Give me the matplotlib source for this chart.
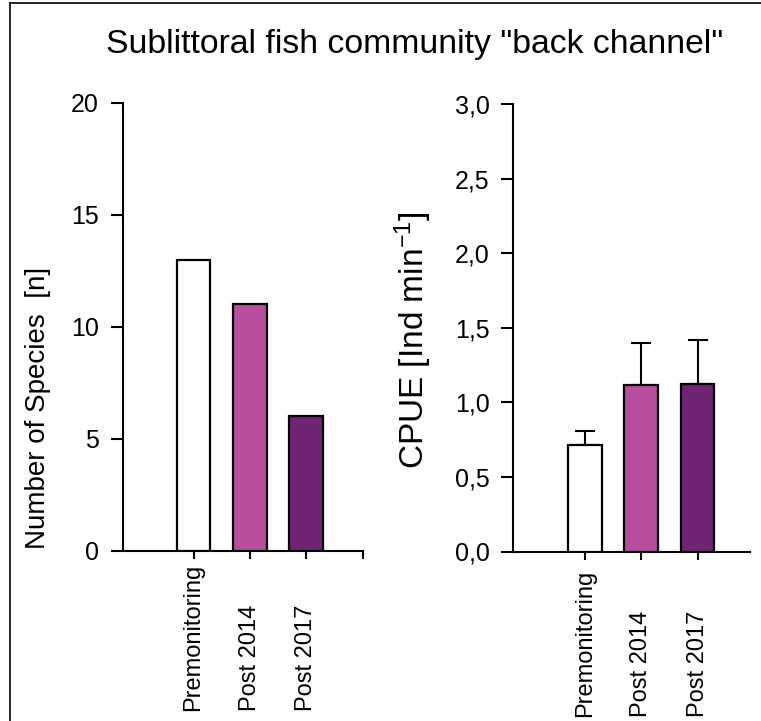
import numpy as np
import matplotlib
matplotlib.use('Agg')
import matplotlib.pyplot as plt
from matplotlib.lines import Line2D
from matplotlib.ticker import FuncFormatter

plt.rcParams['font.family'] = ['Liberation Sans', 'DejaVu Sans']
plt.rcParams['mathtext.default'] = 'regular'

# data
categories = ['Premonitoring', 'Post 2014', 'Post 2017']
species_n = [13, 11, 6]
cpue_mean = [0.715, 1.117, 1.12]
cpue_upper = [0.81, 1.40, 1.42]
bar_colors = ['white', '#b84e9e', '#6e2373']

W, H = 761, 721
fig = plt.figure(figsize=(W / 100, H / 100), dpi=100)
fig.patch.set_facecolor('white')

# border lines (left and top) like the scanned frame
fig.add_artist(Line2D([10/W, 10/W], [0, 1 - 3/H], transform=fig.transFigure, color='black', lw=1.2))
fig.add_artist(Line2D([10/W, 1], [1 - 3/H, 1 - 3/H], transform=fig.transFigure, color='black', lw=1.2))

fig.text(415/W, 1 - 45/H, 'Sublittoral fish community "back channel"',
         ha='center', va='center', fontsize=24.3)

ax1 = fig.add_axes([122.7/W, 1 - 550.7/H, (363 - 122.7)/W, 448/H])
ax2 = fig.add_axes([513/W, 1 - 551.5/H, (750 - 513)/W, 447.5/H])

x = np.arange(len(categories))

def style_axes(ax):
    for s in ['top', 'right']:
        ax.spines[s].set_visible(False)
    for s in ['left', 'bottom']:
        ax.spines[s].set_linewidth(1.5)
    ax.tick_params(axis='y', direction='out', length=9, width=1.5, labelsize=18, pad=8)
    ax.tick_params(axis='x', direction='out', length=6, width=1.5, labelbottom=False)
    ax.set_facecolor('none')

# left panel
ax1.bar(x, species_n, width=0.6, color=bar_colors, edgecolor='black', linewidth=1.6, zorder=3)
ax1.set_xlim(-1.26, 3.01)
ax1.set_ylim(0, 20)
ax1.set_yticks([0, 5, 10, 15, 20])
ax1.set_xticks(list(x) + [3.01])
style_axes(ax1)
fig.text(38/W, 1 - 408/H, 'Number of Species  [n]', rotation=90,
         ha='center', va='center', fontsize=20)
for i, c in enumerate(categories):
    ax1.text(x[i], -0.357, c, transform=ax1.get_xaxis_transform(), rotation=90,
             ha='center', va='bottom', fontsize=17)

# right panel
yerr = [np.zeros(3), np.array(cpue_upper) - np.array(cpue_mean)]
ax2.bar(x, cpue_mean, width=0.6, color=bar_colors, edgecolor='black', linewidth=1.6, zorder=3,
        yerr=yerr, error_kw=dict(ecolor='black', elinewidth=1.5, capsize=7, capthick=1.5, zorder=2))
ax2.set_xlim(-1.27, 2.93)
ax2.set_ylim(0, 3.0)
ax2.set_yticks(np.arange(0, 3.01, 0.5))
ax2.yaxis.set_major_formatter(FuncFormatter(lambda v, p: f'{v:.1f}'.replace('.', ',')))
ax2.set_xticks(x)
style_axes(ax2)
fig.text(413/W, 1 - 340/H, 'CPUE [Ind min$^{-1}$]', rotation=90,
         ha='center', va='center', fontsize=24)
for i, c in enumerate(categories):
    ax2.text(x[i], -0.37, c, transform=ax2.get_xaxis_transform(), rotation=90,
             ha='center', va='bottom', fontsize=17)

fig.savefig('out.png', dpi=100)
